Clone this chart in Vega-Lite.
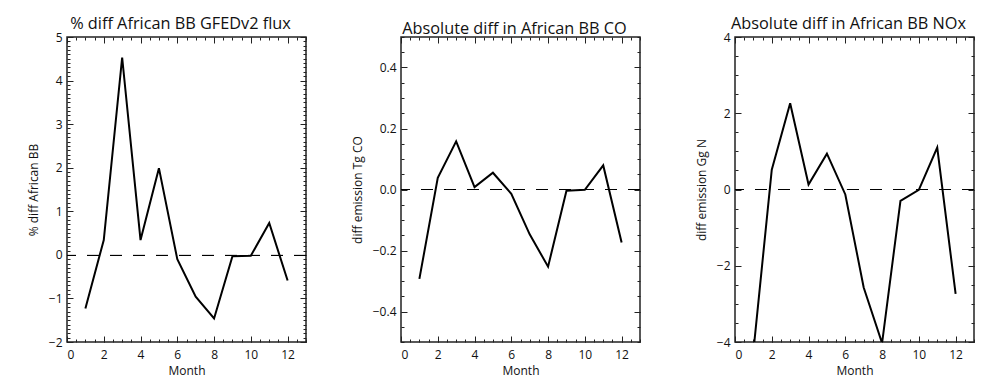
{
  "$schema": "https://vega.github.io/schema/vega-lite/v6.json",
  "padding": {"left": 26, "top": 14, "right": 5, "bottom": 5},
  "background": "white",
  "datasets": {
    "flux": [
      {"month": 1, "value": -1.23}, {"month": 2, "value": 0.34}, {"month": 3, "value": 4.53},
      {"month": 4, "value": 0.34}, {"month": 5, "value": 1.99}, {"month": 6, "value": -0.1},
      {"month": 7, "value": -0.96}, {"month": 8, "value": -1.46}, {"month": 9, "value": -0.03},
      {"month": 10, "value": -0.02}, {"month": 11, "value": 0.73}, {"month": 12, "value": -0.59}
    ],
    "co": [
      {"month": 1, "value": -0.293}, {"month": 2, "value": 0.038}, {"month": 3, "value": 0.158},
      {"month": 4, "value": 0.008}, {"month": 5, "value": 0.055}, {"month": 6, "value": -0.014},
      {"month": 7, "value": -0.147}, {"month": 8, "value": -0.253}, {"month": 9, "value": -0.004},
      {"month": 10, "value": -0.001}, {"month": 11, "value": 0.079}, {"month": 12, "value": -0.174}
    ],
    "nox": [
      {"month": 1, "value": -4.25}, {"month": 2, "value": 0.52}, {"month": 3, "value": 2.26},
      {"month": 4, "value": 0.13}, {"month": 5, "value": 0.94}, {"month": 6, "value": -0.13},
      {"month": 7, "value": -2.57}, {"month": 8, "value": -4.03}, {"month": 9, "value": -0.3},
      {"month": 10, "value": -0.01}, {"month": 11, "value": 1.1}, {"month": 12, "value": -2.74}
    ]
  },
  "hconcat": [
    {
      "width": 239, "height": 305,
      "title": {"text": "% diff African BB GFEDv2 flux", "dx": -6},
      "data": {"name": "flux"},
      "resolve": {"axis": {"x": "independent", "y": "independent"}},
      "layer": [
        {"mark": {"type": "rule", "color": "black", "strokeWidth": 1, "strokeDash": [12, 11], "yOffset": 0.64},
         "encoding": {"y": {"datum": 0, "type": "quantitative", "scale": {"domain": [-2, 5], "nice": false, "zero": false}, "axis": null}}},
        {"mark": {"type": "line", "color": "black", "strokeWidth": 2, "clip": true},
         "encoding": {
           "x": {"field": "month", "type": "quantitative", "scale": {"domain": [0, 13], "nice": false, "zero": false},
                 "axis": {"orient": "bottom", "values": [0, 2, 4, 6, 8, 10, 12], "tickSize": -6, "labelPadding": 13, "title": "Month", "titlePadding": 5}},
           "y": {"field": "value", "type": "quantitative", "scale": {"domain": [-2, 5], "nice": false, "zero": false},
                 "axis": {"orient": "left", "values": [-2, -1, 0, 1, 2, 3, 4, 5], "tickSize": -6, "labelPadding": 11, "title": "% diff African BB", "titlePadding": 8}}}},
        {"mark": {"type": "line", "strokeOpacity": 0, "clip": true},
         "encoding": {
           "x": {"field": "month", "type": "quantitative", "scale": {"domain": [0, 13], "nice": false, "zero": false},
                 "axis": {"orient": "bottom", "values": [0, 0.5, 1, 1.5, 2, 2.5, 3, 3.5, 4, 4.5, 5, 5.5, 6, 6.5, 7, 7.5, 8, 8.5, 9, 9.5, 10, 10.5, 11, 11.5, 12, 12.5, 13], "tickSize": -3, "labels": false, "title": null}},
           "y": {"field": "value", "type": "quantitative", "scale": {"domain": [-2, 5], "nice": false, "zero": false},
                 "axis": {"orient": "left", "values": [-2, -1.9, -1.8, -1.7, -1.6, -1.5, -1.4, -1.3, -1.2, -1.1, -1, -0.9, -0.8, -0.7, -0.6, -0.5, -0.4, -0.3, -0.2, -0.1, 0, 0.1, 0.2, 0.3, 0.4, 0.5, 0.6, 0.7, 0.8, 0.9, 1, 1.1, 1.2, 1.3, 1.4, 1.5, 1.6, 1.7, 1.8, 1.9, 2, 2.1, 2.2, 2.3, 2.4, 2.5, 2.6, 2.7, 2.8, 2.9, 3, 3.1, 3.2, 3.3, 3.4, 3.5, 3.6, 3.7, 3.8, 3.9, 4, 4.1, 4.2, 4.3, 4.4, 4.5, 4.6, 4.7, 4.8, 4.9, 5], "tickSize": -3, "labels": false, "title": null}}}},
        {"mark": {"type": "line", "strokeOpacity": 0, "clip": true},
         "encoding": {
           "x": {"field": "month", "type": "quantitative", "scale": {"domain": [0, 13], "nice": false, "zero": false},
                 "axis": {"orient": "top", "values": [0, 2, 4, 6, 8, 10, 12], "tickSize": -6, "labels": false, "title": null}},
           "y": {"field": "value", "type": "quantitative", "scale": {"domain": [-2, 5], "nice": false, "zero": false},
                 "axis": {"orient": "right", "values": [-2, -1, 0, 1, 2, 3, 4, 5], "tickSize": -6, "labels": false, "title": null}}}},
        {"mark": {"type": "line", "strokeOpacity": 0, "clip": true},
         "encoding": {
           "x": {"field": "month", "type": "quantitative", "scale": {"domain": [0, 13], "nice": false, "zero": false},
                 "axis": {"orient": "top", "values": [0, 0.5, 1, 1.5, 2, 2.5, 3, 3.5, 4, 4.5, 5, 5.5, 6, 6.5, 7, 7.5, 8, 8.5, 9, 9.5, 10, 10.5, 11, 11.5, 12, 12.5, 13], "tickSize": -3, "labels": false, "title": null}},
           "y": {"field": "value", "type": "quantitative", "scale": {"domain": [-2, 5], "nice": false, "zero": false},
                 "axis": {"orient": "right", "values": [-2, -1.9, -1.8, -1.7, -1.6, -1.5, -1.4, -1.3, -1.2, -1.1, -1, -0.9, -0.8, -0.7, -0.6, -0.5, -0.4, -0.3, -0.2, -0.1, 0, 0.1, 0.2, 0.3, 0.4, 0.5, 0.6, 0.7, 0.8, 0.9, 1, 1.1, 1.2, 1.3, 1.4, 1.5, 1.6, 1.7, 1.8, 1.9, 2, 2.1, 2.2, 2.3, 2.4, 2.5, 2.6, 2.7, 2.8, 2.9, 3, 3.1, 3.2, 3.3, 3.4, 3.5, 3.6, 3.7, 3.8, 3.9, 4, 4.1, 4.2, 4.3, 4.4, 4.5, 4.6, 4.7, 4.8, 4.9, 5], "tickSize": -3, "labels": false, "title": null}}}}
      ]
    },
    {
      "width": 239, "height": 305,
      "title": {"text": "Absolute diff in African BB CO", "dx": -6},
      "data": {"name": "co"},
      "resolve": {"axis": {"x": "independent", "y": "independent"}},
      "layer": [
        {"mark": {"type": "rule", "color": "black", "strokeWidth": 1, "strokeDash": [12, 11]},
         "encoding": {"y": {"datum": 0, "type": "quantitative", "scale": {"domain": [-0.5, 0.5], "nice": false, "zero": false}, "axis": null}}},
        {"mark": {"type": "line", "color": "black", "strokeWidth": 2, "clip": true},
         "encoding": {
           "x": {"field": "month", "type": "quantitative", "scale": {"domain": [0, 13], "nice": false, "zero": false},
                 "axis": {"orient": "bottom", "values": [0, 2, 4, 6, 8, 10, 12], "tickSize": -6, "labelPadding": 13, "title": "Month", "titlePadding": 5}},
           "y": {"field": "value", "type": "quantitative", "scale": {"domain": [-0.5, 0.5], "nice": false, "zero": false},
                 "axis": {"orient": "left", "values": [-0.4, -0.2, 0, 0.2, 0.4], "format": ".1f", "tickSize": -6, "labelPadding": 11, "title": "diff emission Tg CO", "titlePadding": 8}}}},
        {"mark": {"type": "line", "strokeOpacity": 0, "clip": true},
         "encoding": {
           "x": {"field": "month", "type": "quantitative", "scale": {"domain": [0, 13], "nice": false, "zero": false},
                 "axis": {"orient": "bottom", "values": [0, 0.5, 1, 1.5, 2, 2.5, 3, 3.5, 4, 4.5, 5, 5.5, 6, 6.5, 7, 7.5, 8, 8.5, 9, 9.5, 10, 10.5, 11, 11.5, 12, 12.5, 13], "tickSize": -3, "labels": false, "title": null}},
           "y": {"field": "value", "type": "quantitative", "scale": {"domain": [-0.5, 0.5], "nice": false, "zero": false},
                 "axis": {"orient": "left", "values": [-0.5, -0.45, -0.4, -0.35, -0.3, -0.25, -0.2, -0.15, -0.1, -0.05, 0, 0.05, 0.1, 0.15, 0.2, 0.25, 0.3, 0.35, 0.4, 0.45, 0.5], "tickSize": -3, "labels": false, "title": null}}}},
        {"mark": {"type": "line", "strokeOpacity": 0, "clip": true},
         "encoding": {
           "x": {"field": "month", "type": "quantitative", "scale": {"domain": [0, 13], "nice": false, "zero": false},
                 "axis": {"orient": "top", "values": [0, 2, 4, 6, 8, 10, 12], "tickSize": -6, "labels": false, "title": null}},
           "y": {"field": "value", "type": "quantitative", "scale": {"domain": [-0.5, 0.5], "nice": false, "zero": false},
                 "axis": {"orient": "right", "values": [-0.4, -0.2, 0, 0.2, 0.4], "tickSize": -6, "labels": false, "title": null}}}},
        {"mark": {"type": "line", "strokeOpacity": 0, "clip": true},
         "encoding": {
           "x": {"field": "month", "type": "quantitative", "scale": {"domain": [0, 13], "nice": false, "zero": false},
                 "axis": {"orient": "top", "values": [0, 0.5, 1, 1.5, 2, 2.5, 3, 3.5, 4, 4.5, 5, 5.5, 6, 6.5, 7, 7.5, 8, 8.5, 9, 9.5, 10, 10.5, 11, 11.5, 12, 12.5, 13], "tickSize": -3, "labels": false, "title": null}},
           "y": {"field": "value", "type": "quantitative", "scale": {"domain": [-0.5, 0.5], "nice": false, "zero": false},
                 "axis": {"orient": "right", "values": [-0.5, -0.45, -0.4, -0.35, -0.3, -0.25, -0.2, -0.15, -0.1, -0.05, 0, 0.05, 0.1, 0.15, 0.2, 0.25, 0.3, 0.35, 0.4, 0.45, 0.5], "tickSize": -3, "labels": false, "title": null}}}}
      ]
    },
    {
      "width": 239, "height": 305,
      "title": {"text": "Absolute diff in African BB NOx", "dx": -6},
      "data": {"name": "nox"},
      "resolve": {"axis": {"x": "independent", "y": "independent"}},
      "layer": [
        {"mark": {"type": "rule", "color": "black", "strokeWidth": 1, "strokeDash": [12, 11]},
         "encoding": {"y": {"datum": 0, "type": "quantitative", "scale": {"domain": [-4, 4], "nice": false, "zero": false}, "axis": null}}},
        {"mark": {"type": "line", "color": "black", "strokeWidth": 2, "clip": true},
         "encoding": {
           "x": {"field": "month", "type": "quantitative", "scale": {"domain": [0, 13], "nice": false, "zero": false},
                 "axis": {"orient": "bottom", "values": [0, 2, 4, 6, 8, 10, 12], "tickSize": -6, "labelPadding": 13, "title": "Month", "titlePadding": 5}},
           "y": {"field": "value", "type": "quantitative", "scale": {"domain": [-4, 4], "nice": false, "zero": false},
                 "axis": {"orient": "left", "values": [-4, -2, 0, 2, 4], "tickSize": -6, "labelPadding": 11, "title": "diff emission Gg N", "titlePadding": 8}}}},
        {"mark": {"type": "line", "strokeOpacity": 0, "clip": true},
         "encoding": {
           "x": {"field": "month", "type": "quantitative", "scale": {"domain": [0, 13], "nice": false, "zero": false},
                 "axis": {"orient": "bottom", "values": [0, 0.5, 1, 1.5, 2, 2.5, 3, 3.5, 4, 4.5, 5, 5.5, 6, 6.5, 7, 7.5, 8, 8.5, 9, 9.5, 10, 10.5, 11, 11.5, 12, 12.5, 13], "tickSize": -3, "labels": false, "title": null}},
           "y": {"field": "value", "type": "quantitative", "scale": {"domain": [-4, 4], "nice": false, "zero": false},
                 "axis": {"orient": "left", "values": [-4, -3.5, -3, -2.5, -2, -1.5, -1, -0.5, 0, 0.5, 1, 1.5, 2, 2.5, 3, 3.5, 4], "tickSize": -3, "labels": false, "title": null}}}},
        {"mark": {"type": "line", "strokeOpacity": 0, "clip": true},
         "encoding": {
           "x": {"field": "month", "type": "quantitative", "scale": {"domain": [0, 13], "nice": false, "zero": false},
                 "axis": {"orient": "top", "values": [0, 2, 4, 6, 8, 10, 12], "tickSize": -6, "labels": false, "title": null}},
           "y": {"field": "value", "type": "quantitative", "scale": {"domain": [-4, 4], "nice": false, "zero": false},
                 "axis": {"orient": "right", "values": [-4, -2, 0, 2, 4], "tickSize": -6, "labels": false, "title": null}}}},
        {"mark": {"type": "line", "strokeOpacity": 0, "clip": true},
         "encoding": {
           "x": {"field": "month", "type": "quantitative", "scale": {"domain": [0, 13], "nice": false, "zero": false},
                 "axis": {"orient": "top", "values": [0, 0.5, 1, 1.5, 2, 2.5, 3, 3.5, 4, 4.5, 5, 5.5, 6, 6.5, 7, 7.5, 8, 8.5, 9, 9.5, 10, 10.5, 11, 11.5, 12, 12.5, 13], "tickSize": -3, "labels": false, "title": null}},
           "y": {"field": "value", "type": "quantitative", "scale": {"domain": [-4, 4], "nice": false, "zero": false},
                 "axis": {"orient": "right", "values": [-4, -3.5, -3, -2.5, -2, -1.5, -1, -0.5, 0, 0.5, 1, 1.5, 2, 2.5, 3, 3.5, 4], "tickSize": -3, "labels": false, "title": null}}}}
      ]
    }
  ],
  "spacing": 95,
  "bounds": "flush",
  "config": {
    "view": {"stroke": "#222", "strokeWidth": 1.5},
    "font": "Open Sans",
    "title": {"font": "Open Sans", "fontSize": 16.3, "fontWeight": "normal", "color": "#111", "offset": -1},
    "axis": {
      "domain": false, "grid": false,
      "tickColor": "#222", "tickWidth": 1,
      "labelFont": "Open Sans", "labelFontSize": 12, "labelColor": "#111",
      "titleFont": "Open Sans", "titleFontSize": 12, "titleFontWeight": "normal", "titleColor": "#111"
    }
  }
}
